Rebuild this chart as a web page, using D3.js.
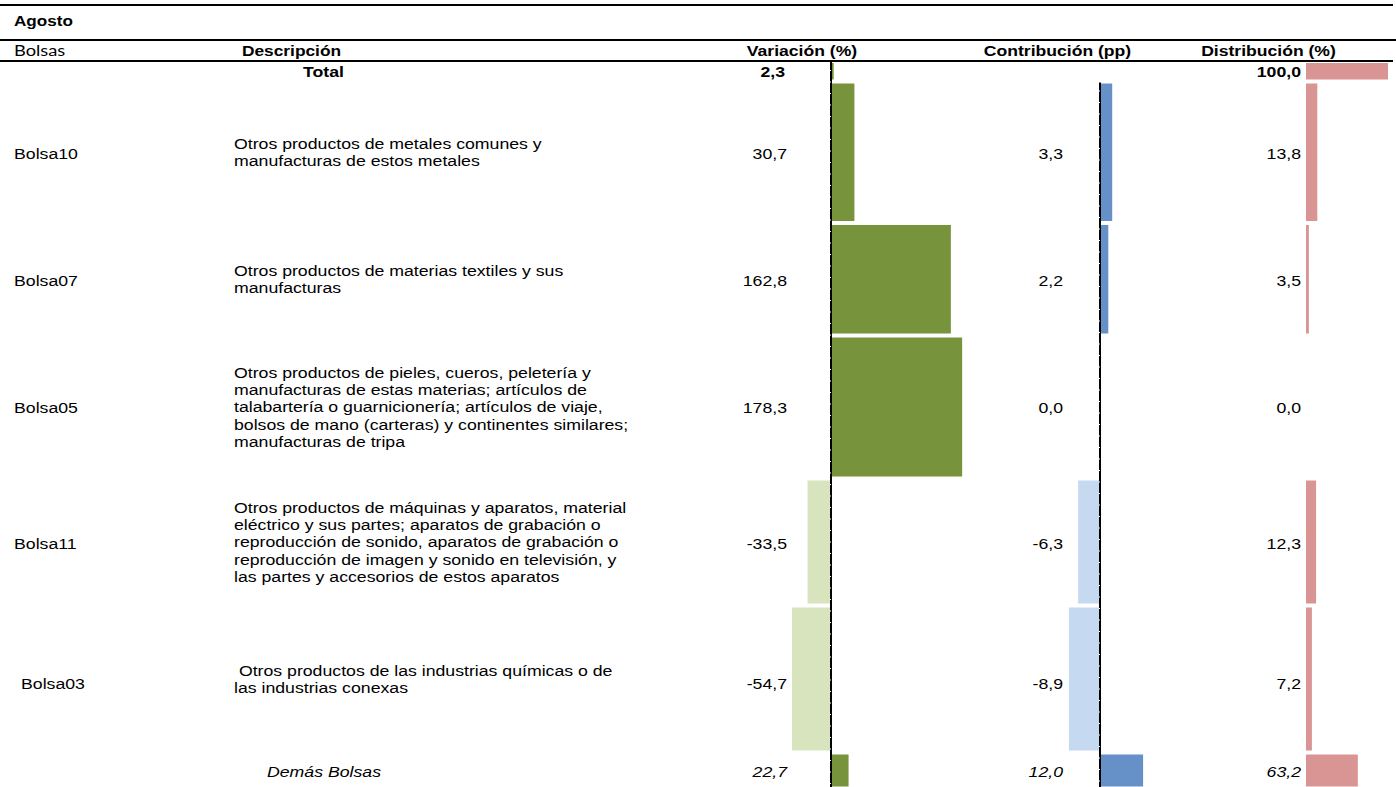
<!DOCTYPE html>
<html>
<head>
<meta charset="utf-8">
<script src="https://cdn.jsdelivr.net/npm/d3@7"></script>
<style>
  html, body { margin: 0; padding: 0; background: #fff; }
  svg { display: block; }
  text { font-family: "Liberation Sans", Arial, sans-serif; fill: #000; white-space: pre; }
</style>
</head>
<body>
<svg id="chart" width="1396" height="787"></svg>
<script>
// ---------------- DATA ----------------
const title = "Agosto";
const headers = ["Bolsas", "Descripción", "Variación (%)", "Contribución (pp)", "Distribución (%)"];
const rowKinds = ["total", "item", "item", "item", "item", "item", "other"];
const codes = ["", "Bolsa10", "Bolsa07", "Bolsa05", "Bolsa11", "Bolsa03", ""];
const descriptions = [
  ["Total"],
  ["Otros productos de metales comunes y", "manufacturas de estos metales"],
  ["Otros productos de materias textiles y sus", "manufacturas"],
  ["Otros productos de pieles, cueros, peletería y", "manufacturas de estas materias; artículos de", "talabartería o guarnicionería; artículos de viaje,", "bolsos de mano (carteras) y continentes similares;", "manufacturas de tripa"],
  ["Otros productos de máquinas y aparatos, material", "eléctrico y sus partes; aparatos de grabación o", "reproducción de sonido, aparatos de grabación o", "reproducción de imagen y sonido en televisión, y", "las partes y accesorios de estos aparatos"],
  [" Otros productos de las industrias químicas o de", "las industrias conexas"],
  ["Demás Bolsas"]
];
const variacion    = [2.3, 30.7, 162.8, 178.3, -33.5, -54.7, 22.7];
const contribucion = [null, 3.3, 2.2, 0.0, -6.3, -8.9, 12.0];
const distribucion = [100.0, 13.8, 3.5, 0.0, 12.3, 7.2, 63.2];

// ---------------- LAYOUT ----------------
const rowHeights = [20.5, 141.5, 112.5, 143, 127, 147, 36];
const labelDy    = [0, 1, 1, 1, 2, 5, 1];
const codeDx     = [0, 0, 0, 0, 0, 7, 0];
const SX = 1.18;          // horizontal text stretch of the original export
const FS = 15;
const LINE = 17.4;

const colors = {
  varPos: "#77933C", varNeg: "#D7E4BD",
  conPos: "#6690C8", conNeg: "#C5D9F1",
  dist: "#D99594"
};

const svg = d3.select("#chart");
const fmt = d3.formatLocale({decimal: ",", thousands: ".", grouping: [3], currency: ["", ""], minus: "-"}).format(".1f");

// Row positions
const tableTop = 61;
const rowTops = [];
let acc = tableTop;
rowHeights.forEach(h => { rowTops.push(acc); acc += h; });
const rowCenter = i => rowTops[i] + rowHeights[i] / 2;

// Scales
const xVar = d3.scaleLinear().domain([-60, 200]).range([832 - 60 * 0.73, 832 + 200 * 0.73]);
const xCon = d3.scaleLinear().domain([-10, 15]).range([1100.5 - 10 * 3.55, 1100.5 + 15 * 3.55]);
const xDist = d3.scaleLinear().domain([0, 100]).range([1306, 1388]);

function txt(x, y, s, o = {}) {
  const t = svg.append("text")
    .attr("transform", `translate(${x},${y}) scale(${o.sx || SX},1)`)
    .attr("text-anchor", o.anchor || "start")
    .attr("xml:space", "preserve")
    .attr("dy", "0.36em")
    .style("font-size", (o.fs || FS) + "px")
    .style("font-weight", o.bold ? "bold" : "normal")
    .style("font-style", o.italic ? "italic" : "normal")
    .text(s);
  if (o.family) t.style("font-family", o.family);
  return t;
}

// Horizontal rules
const rules = [{y: 5, x2: 1393}, {y: 40, x2: 1396}, {y: 61, x2: 1393}];
svg.selectAll("line.rule").data(rules).enter().append("line")
  .attr("class", "rule")
  .attr("x1", 0).attr("x2", d => d.x2)
  .attr("y1", d => d.y).attr("y2", d => d.y)
  .attr("stroke", "#000").attr("stroke-width", 2.2);

// Title & headers
txt(14, 21, title, {bold: true, fs: 14.5});
txt(14, 50.5, headers[0], {family: "Lato, 'Open Sans', sans-serif", fs: 15, sx: 1.22});
txt(291.5, 50.5, headers[1], {anchor: "middle", bold: true, fs: 14.7});
txt(802, 50.5, headers[2], {anchor: "middle", bold: true, fs: 14.9});
txt(1057.5, 50.5, headers[3], {anchor: "middle", bold: true, fs: 14.9});
txt(1268.5, 50.5, headers[4], {anchor: "middle", bold: true, fs: 14.9});

// Bars
const barPad = 2;
const rows = d3.range(variacion.length);

svg.selectAll("rect.var").data(rows).enter().append("rect")
  .attr("class", "var")
  .attr("x", i => Math.min(xVar(0), xVar(variacion[i])))
  .attr("width", i => Math.abs(xVar(variacion[i]) - xVar(0)))
  .attr("y", i => rowTops[i] + barPad)
  .attr("height", i => rowHeights[i] - 2 * barPad)
  .attr("fill", i => variacion[i] >= 0 ? colors.varPos : colors.varNeg);

svg.selectAll("rect.con").data(rows.filter(i => contribucion[i] !== null)).enter().append("rect")
  .attr("class", "con")
  .attr("x", i => Math.min(xCon(0), xCon(contribucion[i])))
  .attr("width", i => Math.abs(xCon(contribucion[i]) - xCon(0)))
  .attr("y", i => rowTops[i] + barPad)
  .attr("height", i => rowHeights[i] - 2 * barPad)
  .attr("fill", i => contribucion[i] >= 0 ? colors.conPos : colors.conNeg);

svg.selectAll("rect.dist").data(rows).enter().append("rect")
  .attr("class", "dist")
  .attr("x", xDist(0))
  .attr("width", i => xDist(distribucion[i]) - xDist(0))
  .attr("y", i => rowTops[i] + barPad)
  .attr("height", i => rowHeights[i] - 2 * barPad)
  .attr("fill", colors.dist);

// Zero axes
function zeroAxis(x, y1, y2) {
  svg.append("line").attr("x1", x).attr("x2", x).attr("y1", y1).attr("y2", y2)
    .attr("stroke", "#000").attr("stroke-width", 2);
  svg.append("line").attr("x1", x - 0.5).attr("x2", x - 0.5).attr("y1", y1 + 8).attr("y2", y2)
    .attr("stroke", "#fff").attr("stroke-width", 1).attr("stroke-dasharray", "1,10.5");
}
zeroAxis(xVar(0) - 1, rowTops[0] + 1, 787);
zeroAxis(xCon(0) - 0.5, rowTops[1] + 1, 787);

// Row text
rows.forEach(i => {
  const kind = rowKinds[i];
  const cy = rowCenter(i) + labelDy[i];
  const bold = kind === "total";
  const italic = kind === "other";
  if (codes[i]) txt(14 + codeDx[i], cy, codes[i]);
  const lines = descriptions[i];
  if (kind === "total") {
    txt(323.5, rowCenter(i), lines[0], {anchor: "middle", bold: true});
  } else if (kind === "other") {
    txt(267, cy, lines[0], {italic: true});
  } else {
    const c = rowCenter(i);
    const start = c - (lines.length - 1) * LINE / 2;
    lines.forEach((l, k) => txt(234, start + k * LINE, l));
  }
  const vy = kind === "total" ? rowCenter(i) : cy;
  txt(bold ? 785 : 787, vy, fmt(variacion[i]), {anchor: "end", bold, italic});
  if (contribucion[i] !== null) txt(1063, vy, fmt(contribucion[i]), {anchor: "end", bold, italic});
  txt(1301, vy, fmt(distribucion[i]), {anchor: "end", bold, italic});
});
</script>
</body>
</html>
